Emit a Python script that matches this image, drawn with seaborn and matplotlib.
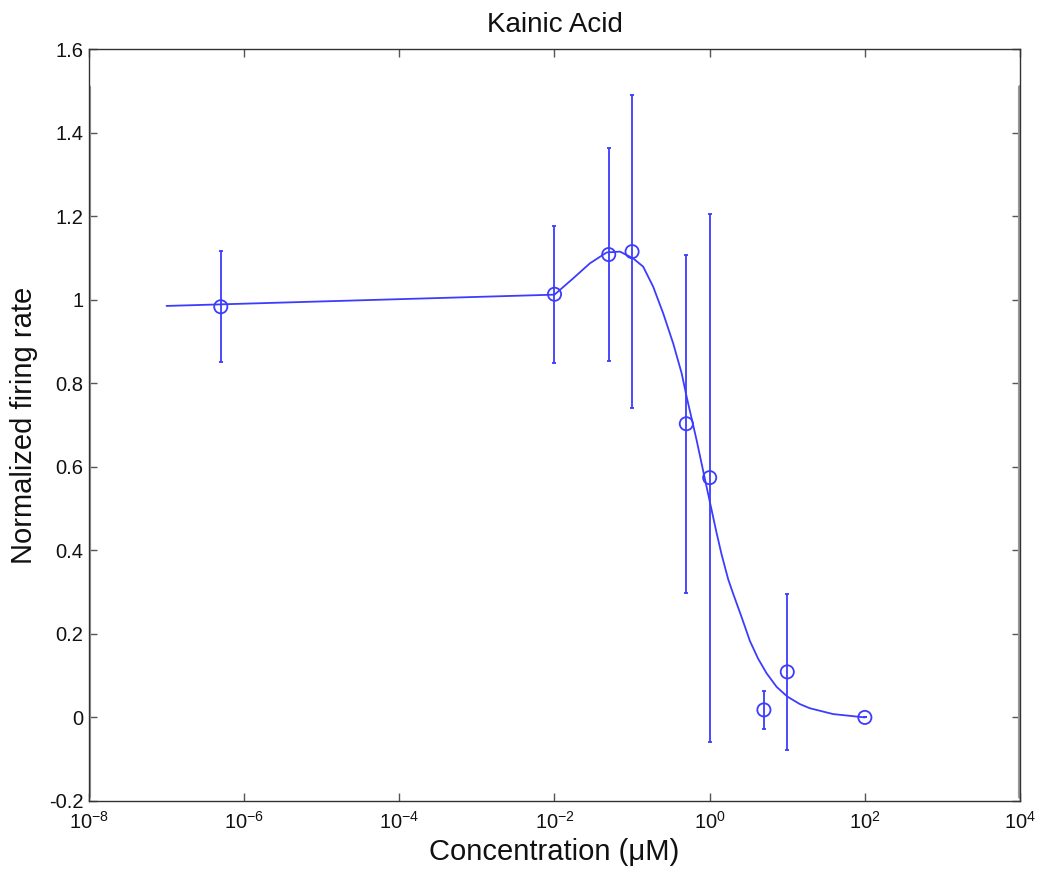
import numpy as np
import pandas as pd
import matplotlib
matplotlib.use("Agg")
import matplotlib.pyplot as plt
from matplotlib.ticker import NullLocator, FixedLocator, FixedFormatter
import seaborn as sns

# ---- data ----
concentration = [5e-7, 0.01, 0.05, 0.1, 0.5, 1.0, 5.0, 10.0, 100.0]
firing_rate = [0.983, 1.013, 1.108, 1.115, 0.703, 0.574, 0.018, 0.109, 0.0]
sem = [0.133, 0.164, 0.255, 0.375, 0.405, 0.632, 0.045, 0.187, 0.0]

fit_conc = [1e-7, 0.01, 0.0174, 0.0286, 0.047, 0.0697, 0.103, 0.139, 0.187,
            0.252, 0.339, 0.435, 0.504, 0.678, 0.912, 1.23, 1.42, 1.73, 2.0,
            2.58, 3.3, 4.2, 5.4, 7.3, 10.0, 14.5, 19.5, 39.0, 100.0]
fit_rate = [0.985, 1.012, 1.051, 1.087, 1.113, 1.115, 1.099, 1.079, 1.031,
            0.967, 0.895, 0.824, 0.768, 0.664, 0.552, 0.441, 0.391, 0.331, 0.297,
            0.240, 0.183, 0.141, 0.106, 0.073, 0.050, 0.032, 0.022, 0.008, 0.0]

x_ticks = [1e-8, 1e-6, 1e-4, 1e-2, 1e0, 1e2, 1e4]
x_tick_labels = [r"$\mathdefault{10^{-8}}$", r"$\mathdefault{10^{-6}}$",
                 r"$\mathdefault{10^{-4}}$", r"$\mathdefault{10^{-2}}$",
                 r"$\mathdefault{10^{0}}$", r"$\mathdefault{10^{2}}$",
                 r"$\mathdefault{10^{4}}$"]
y_ticks = [-0.2, 0, 0.2, 0.4, 0.6, 0.8, 1.0, 1.2, 1.4, 1.6]
y_tick_labels = ["-0.2", "0", "0.2", "0.4", "0.6", "0.8", "1", "1.2", "1.4", "1.6"]

title = "Kainic Acid"
x_label = "Concentration (\u03bcM)"
y_label = "Normalized firing rate"

# ---- style ----
sns.set_theme(style="white")
plt.rcParams["font.family"] = ["Liberation Sans", "DejaVu Sans"]
plt.rcParams["mathtext.fontset"] = "custom"
plt.rcParams["mathtext.rm"] = "Liberation Sans"
plt.rcParams["mathtext.it"] = "Liberation Sans:italic"
plt.rcParams["mathtext.bf"] = "Liberation Sans:bold"

blue = "#3c3cff"

fig = plt.figure(figsize=(10.38, 8.8), dpi=100)
ax = fig.add_axes([0.0857, 0.0898, 0.8970, 0.8545])

fit_df = pd.DataFrame({"conc": fit_conc, "rate": fit_rate})
pts_df = pd.DataFrame({"conc": concentration, "rate": firing_rate, "sem": sem})

sns.lineplot(data=fit_df, x="conc", y="rate", ax=ax, color=blue, lw=1.3,
             sort=False, estimator=None)
ax.errorbar(pts_df["conc"], pts_df["rate"], yerr=pts_df["sem"], fmt="none",
            ecolor=blue, elinewidth=1.3, capsize=1.5, capthick=1.3)
sns.scatterplot(data=pts_df, x="conc", y="rate", ax=ax, marker="o", s=90,
                facecolor="none", edgecolor=blue, linewidth=1.3, zorder=5)

ax.set_xscale("log")
ax.set_xlim(1e-8, 1e4)
ax.set_ylim(-0.2, 1.6)
ax.xaxis.set_major_locator(FixedLocator(x_ticks))
ax.xaxis.set_major_formatter(FixedFormatter(x_tick_labels))
ax.xaxis.set_minor_locator(NullLocator())
ax.yaxis.set_major_locator(FixedLocator(y_ticks))
ax.yaxis.set_major_formatter(FixedFormatter(y_tick_labels))

ax.tick_params(axis="both", which="major", direction="in", length=6, width=1,
               color="#555555", labelsize=14.5, labelcolor="#111111",
               top=True, right=True, bottom=True, left=True)
ax.tick_params(axis="y", pad=4)
ax.tick_params(axis="x", pad=7)

for s in ax.spines.values():
    s.set_visible(True)
    s.set_color("#333333")
    s.set_linewidth(1.0)

# screen-capture style grey edge bars on the left and right of the box
ax.axvline(ax.get_xlim()[0], ymin=0.005, ymax=0.949, color="#9a9a9a", lw=3, zorder=1)
ax.axvline(ax.get_xlim()[1], ymin=0.005, ymax=0.949, color="#9a9a9a", lw=3, zorder=1)

ax.set_title(title, fontsize=20, pad=12, color="#111111")
ax.set_xlabel(x_label, fontsize=21, labelpad=4, color="#111111")
ax.set_ylabel(y_label, fontsize=21, labelpad=8, color="#111111")

fig.savefig("out.png", dpi=100, facecolor="white")
